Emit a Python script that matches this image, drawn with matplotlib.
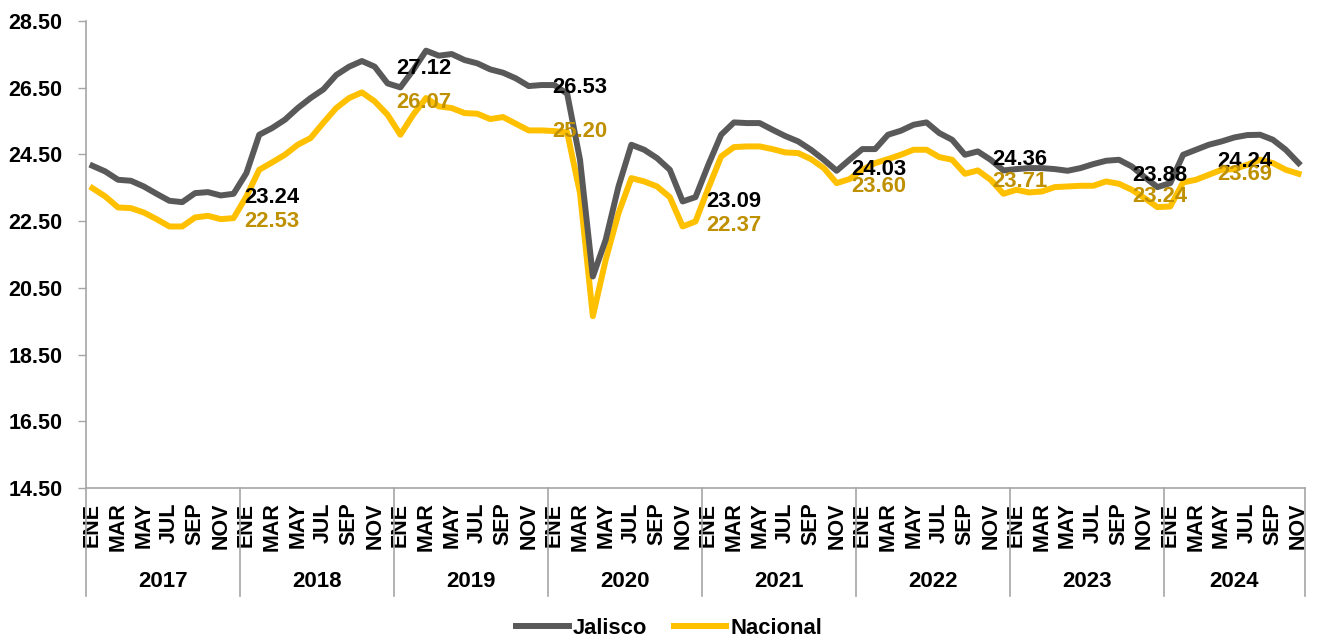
import matplotlib
matplotlib.use("Agg")
import matplotlib.pyplot as plt
import matplotlib.transforms as mtransforms

plt.rcParams['font.family'] = ['Liberation Sans', 'DejaVu Sans']
plt.rcParams['font.weight'] = 'bold'

years = ['2017', '2018', '2019', '2020', '2021', '2022', '2023', '2024']
months = ['ENE', 'FEB', 'MAR', 'ABR', 'MAY', 'JUN', 'JUL', 'AGO', 'SEP', 'OCT', 'NOV', 'DIC']
months_per_year = [12, 12, 12, 12, 12, 12, 12, 11]

jalisco = [
    24.16, 23.99, 23.74, 23.71, 23.54, 23.32, 23.11, 23.07, 23.34, 23.37, 23.27, 23.32,
    23.94, 25.09, 25.29, 25.54, 25.89, 26.19, 26.45, 26.88, 27.13, 27.30, 27.13, 26.63,
    26.51, 27.03, 27.61, 27.46, 27.51, 27.33, 27.23, 27.05, 26.95, 26.78, 26.55, 26.58,
    26.58, 26.32, 24.34, 20.84, 21.94, 23.54, 24.79, 24.64, 24.39, 24.04, 23.09, 23.22,
    24.19, 25.09, 25.46, 25.44, 25.44, 25.24, 25.05, 24.89, 24.64, 24.34, 24.01, 24.34,
    24.66, 24.66, 25.09, 25.21, 25.39, 25.46, 25.14, 24.94, 24.49, 24.59, 24.34, 24.02,
    24.06, 24.09, 24.09, 24.06, 24.01, 24.09, 24.21, 24.31, 24.34, 24.14, 23.82, 23.52,
    23.64, 24.49, 24.64, 24.79, 24.89, 25.01, 25.08, 25.09, 24.94, 24.64, 24.24,
]
nacional = [
    23.49, 23.24, 22.91, 22.89, 22.76, 22.56, 22.34, 22.34, 22.61, 22.66, 22.56, 22.59,
    23.24, 24.04, 24.26, 24.49, 24.79, 24.99, 25.45, 25.89, 26.19, 26.36, 26.09, 25.69,
    25.09, 25.69, 26.19, 25.94, 25.89, 25.74, 25.72, 25.56, 25.62, 25.42, 25.22, 25.22,
    25.20, 25.16, 23.34, 19.65, 21.34, 22.74, 23.79, 23.69, 23.54, 23.22, 22.34, 22.49,
    23.49, 24.44, 24.72, 24.74, 24.74, 24.66, 24.56, 24.54, 24.36, 24.09, 23.64, 23.76,
    24.04, 24.24, 24.36, 24.49, 24.64, 24.64, 24.42, 24.34, 23.92, 24.02, 23.74, 23.32,
    23.44, 23.36, 23.39, 23.52, 23.54, 23.56, 23.56, 23.69, 23.62, 23.44, 23.19, 22.92,
    22.94, 23.66, 23.74, 23.89, 24.04, 24.06, 24.19, 24.34, 24.24, 24.04, 23.92,
]

jalisco_labels = ['23.24', '27.12', '26.53', '23.09', '24.03', '24.36', '23.88', '24.24']
nacional_labels = ['22.53', '26.07', '25.20', '22.37', '23.60', '23.71', '23.24', '23.69']
label_x = [11.8, 23.7, 35.8, 47.8, 59.1, 70.1, 81.0, 87.7]
jal_label_y = [23.20, 27.09, 26.52, 23.08, 24.04, 24.34, 23.86, 24.28]
nac_label_y = [22.48, 26.05, 25.18, 22.36, 23.53, 23.68, 23.23, 23.89]

yticks = [14.5, 16.5, 18.5, 20.5, 22.5, 24.5, 26.5, 28.5]

GRAY = '#595959'
GOLD = '#FFC000'
GOLD_TXT = '#BF9000'
AXC = '#A6A6A6'

fig = plt.figure(figsize=(13.33, 6.39), dpi=100)
ax = fig.add_axes([86/1333, 1 - 488/639, (1305-86)/1333, (488-21)/639])

n = len(jalisco)
x = list(range(n))
ax.plot(x, jalisco, color=GRAY, lw=4.3, solid_joinstyle='round', label='Jalisco', zorder=3)
ax.plot(x, nacional, color=GOLD, lw=4.3, solid_joinstyle='round', label='Nacional', zorder=2)

for lx, ly, t in zip(label_x, jal_label_y, jalisco_labels):
    ax.text(lx, ly, t, color='black', fontsize=15.8, fontweight='bold', ha='left', va='center', zorder=4)
for lx, ly, t in zip(label_x, nac_label_y, nacional_labels):
    ax.text(lx, ly, t, color=GOLD_TXT, fontsize=15.8, fontweight='bold', ha='left', va='center', zorder=4)

ax.set_xlim(-0.5, n - 0.5)
ax.set_ylim(14.5, 28.5)
ax.set_yticks(yticks)
ax.set_yticklabels([f'{v:.2f}' for v in yticks], fontsize=15.5, fontweight='bold')
ax.tick_params(axis='y', length=6, width=1, color=AXC, pad=11)

# month tick labels
tick_pos = []
tick_lab = []
idx = 0
for yr, nm in zip(years, months_per_year):
    for m in range(nm):
        if m % 2 == 0:
            tick_pos.append(idx)
            tick_lab.append(months[m])
        idx += 1
ax.set_xticks(tick_pos)
ax.set_xticklabels(tick_lab, rotation=90, fontsize=15.5, fontweight='bold')
ax.tick_params(axis='x', length=0, pad=10.5)

for s in ['top', 'right']:
    ax.spines[s].set_visible(False)
for s in ['left', 'bottom']:
    ax.spines[s].set_color(AXC)
    ax.spines[s].set_linewidth(1.2)

trans = mtransforms.blended_transform_factory(ax.transData, ax.transAxes)
start = 0
bounds = [-0.5]
for yr, nm in zip(years, months_per_year):
    center = start + (nm - 1) / 2
    ax.text(center, -0.201, yr, transform=trans, ha='center', va='center',
            fontsize=16, fontweight='bold')
    start += nm
    bounds.append(start - 0.5)
for b in bounds:
    ax.plot([b, b], [0, -0.231], transform=trans, color=AXC, lw=1.2, clip_on=False)

fig.legend(loc='center', bbox_to_anchor=(0.502, 0.017), ncol=2, frameon=False,
           prop={'size': 15.8, 'weight': 'bold'}, handlelength=2.4, handletextpad=0.2,
           columnspacing=1.2)

fig.savefig('out.png', dpi=100)
